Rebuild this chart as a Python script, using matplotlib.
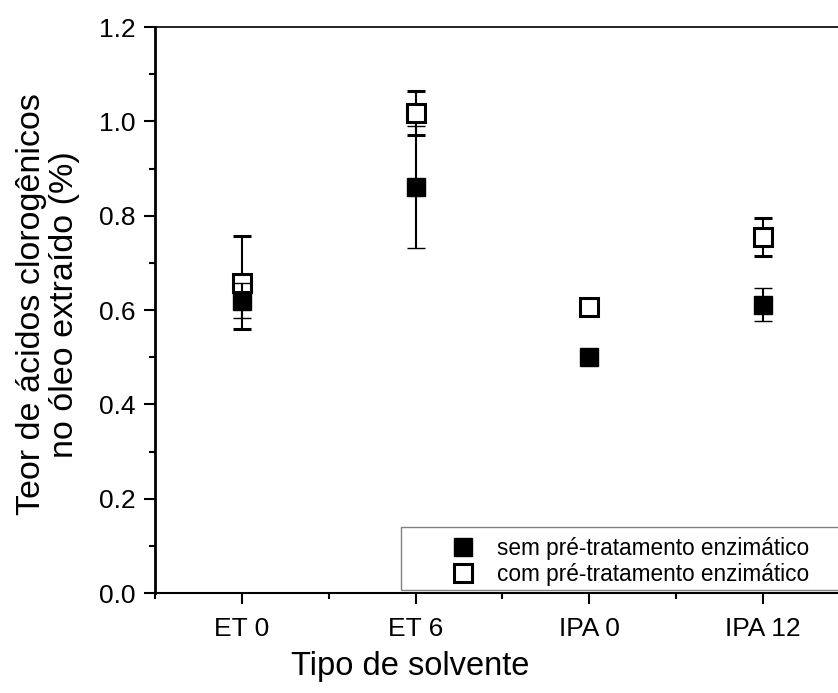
import numpy as np
import matplotlib
matplotlib.use('Agg')
import matplotlib.pyplot as plt
from matplotlib.lines import Line2D
from matplotlib.patches import Rectangle
from matplotlib.ticker import MultipleLocator, FormatStrFormatter

plt.rcParams['font.family'] = ['Liberation Sans', 'DejaVu Sans']

# %% data: chlorogenic acid content per solvent
solventes = ['ET 0', 'ET 6', 'IPA 0', 'IPA 12']
sem_pre = [0.620, 0.861, 0.500, 0.611]
sem_pre_err = [0.037, 0.130, 0.008, 0.035]
com_pre = [0.658, 1.018, 0.607, 0.755]
com_pre_err = [0.098, 0.047, 0.010, 0.040]

x = np.arange(len(solventes))

fig = plt.figure(figsize=(8.38, 6.93), dpi=100)
ax = fig.add_axes([0.1853, 0.1443, 0.8282, 0.8167])

# open squares first, filled series on top
ax.errorbar(x, com_pre, yerr=com_pre_err, fmt='s', color='black', ms=12.5,
            mfc='white', mec='black', mew=2.2, elinewidth=1.5, capsize=6.2,
            capthick=2.2, ecolor='black', zorder=3)
ax.errorbar(x, sem_pre, yerr=sem_pre_err, fmt='s', color='black', ms=13.3,
            mfc='black', mec='black', mew=1, elinewidth=1.5, capsize=6.2,
            capthick=2.2, ecolor='black', zorder=4)

ax.set_xlim(-0.5, 3.5)
ax.set_ylim(0, 1.2)
ax.set_xticks(x)
ax.set_xticklabels(solventes)
ax.xaxis.set_minor_locator(MultipleLocator(0.5))
ax.yaxis.set_major_locator(MultipleLocator(0.2))
ax.yaxis.set_minor_locator(MultipleLocator(0.1))
ax.yaxis.set_major_formatter(FormatStrFormatter('%.1f'))

ax.tick_params(axis='both', which='major', direction='out', length=8, width=1.5,
               labelsize=19, pad=6)
ax.tick_params(axis='x', which='major', pad=9.5)
ax.tick_params(axis='both', which='minor', direction='out', length=4.5, width=1.5)
ax.tick_params(top=False, right=False, which='both')

ax.spines['left'].set_linewidth(2.0)
ax.spines['bottom'].set_linewidth(1.5)
ax.spines['top'].set_linewidth(1.2)
ax.spines['right'].set_visible(False)

ax.set_ylabel('Teor de ácidos clorogênicos\nno óleo extraído (%)', fontsize=24.5,
              linespacing=1.1)
ax.yaxis.set_label_coords(-0.108, 0.51)
ax.set_xlabel('Tipo de solvente', fontsize=23.5)
ax.xaxis.set_label_coords(0.367, -0.103)

# legend box runs past the right edge
ax.add_patch(Rectangle((0.354, 0.0053), 0.7, 0.111, transform=ax.transAxes,
                       fill=True, facecolor='white', edgecolor='#808080',
                       linewidth=1.0, clip_on=False, zorder=5))
handles = [
    Line2D([], [], ls='none', marker='s', ms=13.3, mfc='black', mec='black', mew=1),
    Line2D([], [], ls='none', marker='s', ms=12.5, mfc='white', mec='black', mew=2.2),
]
leg = ax.legend(handles, ['sem pré-tratamento enzimático', 'com pré-tratamento enzimático'],
                loc='upper left', bbox_to_anchor=(0.4276, 0.099), frameon=False,
                fontsize=16.3, borderaxespad=0, borderpad=0, handlelength=1.0,
                handletextpad=1.0, labelspacing=0.12)
leg.set_zorder(6)

fig.savefig('out.png', dpi=100)
